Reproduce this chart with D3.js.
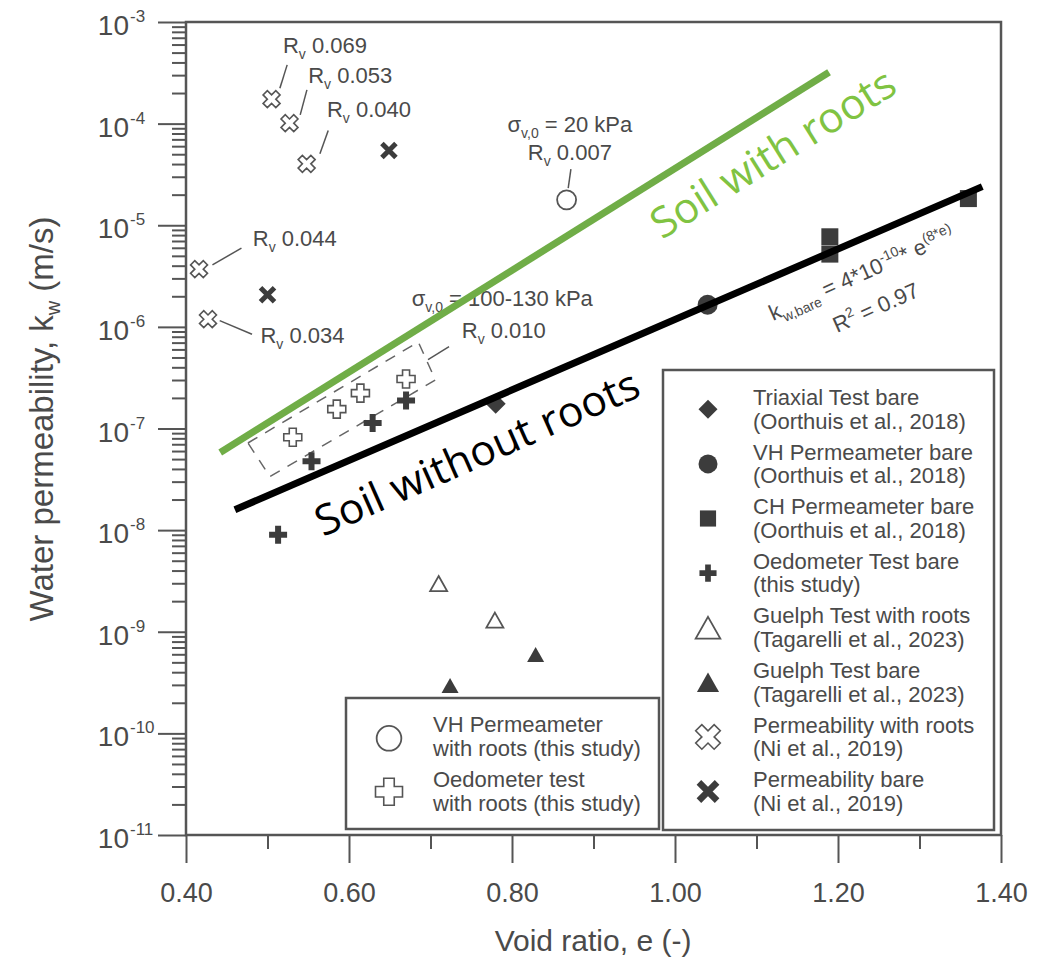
<!DOCTYPE html>
<html>
<head>
<meta charset="utf-8">
<script src="https://cdn.jsdelivr.net/npm/d3@7"></script>
<style>
  body { margin: 0; background: #fff; }
  text { font-family: "Liberation Sans", Arial, sans-serif; fill: #4a4a4a; }
</style>
</head>
<body>
<svg id="chart" width="1045" height="962"></svg>
<script>
// data (void ratio e, permeability k in m/s)
const triaxialE = [0.78];
const triaxialK = [1.75e-7];
const vhBareE = [1.04];
const vhBareK = [1.65e-6];
const chBareE = [1.19, 1.19, 1.36];
const chBareK = [7.7e-6, 5.2e-6, 1.83e-5];
const oedoBareE = [0.513, 0.554, 0.629, 0.670];
const oedoBareK = [9.0e-9, 4.75e-8, 1.13e-7, 1.89e-7];
const oedoRootE = [0.531, 0.585, 0.614, 0.670];
const oedoRootK = [8.2e-8, 1.55e-7, 2.23e-7, 3.07e-7];
const vhRootE = [0.867];
const vhRootK = [1.78e-5];
const guelphRootE = [0.710, 0.779];
const guelphRootK = [2.98e-9, 1.30e-9];
const guelphBareE = [0.724, 0.829];
const guelphBareK = [2.96e-10, 5.97e-10];
const niRootE = [0.505, 0.527, 0.548, 0.416, 0.427];
const niRootK = [1.74e-4, 1.01e-4, 4.02e-5, 3.7e-6, 1.19e-6];
const niRootRv = ["0.069", "0.053", "0.040", "0.044", "0.034"];
const niBareE = [0.500, 0.649];
const niBareK = [2.07e-6, 5.43e-5];

// trend lines (end points)
const bareLineE = [0.46, 1.377];
const bareLineK = [1.586e-8, 2.4e-5];
const rootLineE = [0.442, 1.189];
const rootLineK = [5.8e-8, 3.2e-4];

// dashed box round the oedometer tests with roots
const boxE = [0.476, 0.685, 0.706, 0.503];
const boxK = [7.2e-8, 7.1e-7, 3.0e-7, 3.36e-8];

const xMajor = [0.4, 0.6, 0.8, 1.0, 1.2, 1.4];
const xMinor = [0.5, 0.7, 0.9, 1.1, 1.3];
const yExponents = [-11, -10, -9, -8, -7, -6, -5, -4, -3];
const yMinorMult = [2, 3, 4, 5, 6, 7, 8, 9];

const legendRight = [
  ["diamond", "Triaxial Test bare", "(Oorthuis et al., 2018)"],
  ["circleFill", "VH Permeameter bare", "(Oorthuis et al., 2018)"],
  ["square", "CH Permeameter bare", "(Oorthuis et al., 2018)"],
  ["plusFill", "Oedometer Test bare", "(this study)"],
  ["triOpen", "Guelph Test with roots", "(Tagarelli et al., 2023)"],
  ["triFill", "Guelph Test bare", "(Tagarelli et al., 2023)"],
  ["xOpen", "Permeability with roots", "(Ni et al., 2019)"],
  ["xFill", "Permeability bare", "(Ni et al., 2019)"]
];
const legendBottom = [
  ["circleOpen", "VH Permeameter", "with roots (this study)"],
  ["plusOpen", "Oedometer test", "with roots (this study)"]
];

const svg = d3.select("#chart");
const dark = "#3c3c3c";
const grey = "#555";

const x = d3.scaleLinear().domain([0.4, 1.4]).range([186, 1001]);
const y = d3.scaleLog().domain([1e-11, 1e-3]).range([835, 22]);

// axes
const xAxisG = svg.append("g").attr("transform", "translate(0,835)");
xAxisG.call(d3.axisBottom(x).tickValues(xMajor).tickSize(28).tickPadding(20)
  .tickFormat(d3.format(".2f")));
xAxisG.append("g").call(d3.axisBottom(x).tickValues(xMinor).tickSize(14).tickFormat(""));
xAxisG.selectAll("text").style("font-size", "27px").attr("fill", "#4a4a4a");

const yMajor = yExponents.map(p => Math.pow(10, p));
const yMinor = [];
yExponents.slice(0, -1).forEach(p => yMinorMult.forEach(m => yMinor.push(m * Math.pow(10, p))));
const yAxisG = svg.append("g").attr("transform", "translate(186,0)");
yAxisG.call(d3.axisLeft(y).tickValues(yMajor).tickSize(28).tickFormat(""));
yAxisG.append("g").call(d3.axisLeft(y).tickValues(yMinor).tickSize(14).tickFormat(""));

svg.selectAll(".domain").remove();
svg.selectAll(".tick line").attr("stroke", grey).attr("stroke-width", 2);

yExponents.forEach(p => {
  const yy = y(Math.pow(10, p));
  svg.append("text").attr("x", 129).attr("y", yy + 13).attr("text-anchor", "end")
    .style("font-size", "28px").text("10");
  svg.append("text").attr("x", 130).attr("y", yy).style("font-size", "17px").text("-" + (-p));
});

svg.append("rect").attr("x", 186).attr("y", 22).attr("width", 815).attr("height", 813)
  .attr("fill", "none").attr("stroke", grey).attr("stroke-width", 2.5);

svg.append("text").attr("x", 593).attr("y", 951).attr("text-anchor", "middle")
  .style("font-size", "30px").text("Void ratio, e (-)");

const yl = svg.append("text").attr("transform", "translate(53,419) rotate(-90)")
  .attr("text-anchor", "middle").style("font-size", "33px");
yl.append("tspan").text("Water permeability, k");
yl.append("tspan").attr("dy", 7).style("font-size", "20px").text("w");
yl.append("tspan").attr("dy", -7).text(" (m/s)");

// markers
function plusPts(a, w) {
  return [[w,-a],[w,-w],[a,-w],[a,w],[w,w],[w,a],[-w,a],[-w,w],[-a,w],[-a,-w],[-w,-w],[-w,-a]];
}
function marker(g, type, cx, cy, s) {
  const m = g.append("g").attr("transform", `translate(${cx},${cy})`);
  const line = d3.line();
  if (type === "diamond") {
    m.append("path").attr("d", line([[0,-10*s],[10*s,0],[0,10*s],[-10*s,0]]) + "Z").attr("fill", dark);
  } else if (type === "circleFill") {
    m.append("circle").attr("r", 10 * s).attr("fill", dark);
  } else if (type === "square") {
    m.append("rect").attr("x", -8.5*s).attr("y", -8.5*s).attr("width", 17*s).attr("height", 17*s).attr("fill", dark);
  } else if (type === "plusFill") {
    m.append("path").attr("d", line(plusPts(9*s, 3*s)) + "Z").attr("fill", dark);
  } else if (type === "plusOpen") {
    m.append("path").attr("d", line(plusPts(9*s, 3.5*s)) + "Z").attr("fill", "#fff")
      .attr("stroke", grey).attr("stroke-width", 1.6);
  } else if (type === "triOpen" || type === "triFill") {
    const t = m.append("path").attr("d", line([[0,-7.5*s],[8.5*s,7.5*s],[-8.5*s,7.5*s]]) + "Z");
    if (type === "triFill") t.attr("fill", dark);
    else t.attr("fill", "#fff").attr("stroke", grey).attr("stroke-width", 1.8);
  } else if (type === "xOpen") {
    m.append("path").attr("d", line(plusPts(9*s, 3*s)) + "Z").attr("transform", "rotate(45)")
      .attr("fill", "#fff").attr("stroke", grey).attr("stroke-width", 1.6);
  } else if (type === "xFill") {
    m.append("path").attr("d", `M${-7*s},${-7*s}L${7*s},${7*s}M${7*s},${-7*s}L${-7*s},${7*s}`)
      .attr("stroke", dark).attr("stroke-width", 5 * s);
  } else if (type === "circleOpen") {
    m.append("circle").attr("r", 9.5 * s).attr("fill", "#fff").attr("stroke", grey).attr("stroke-width", 1.8);
  }
}

// dashed box
const boxPts = boxE.map((e, i) => [x(e), y(boxK[i])]);
svg.append("path").attr("d", d3.line()(boxPts) + "Z").attr("fill", "none")
  .attr("stroke", "#666").attr("stroke-width", 1.5).attr("stroke-dasharray", "11,9");

// annotations: leader lines and labels (offsets in px from the marked point)
const lead = (p, a, b) => svg.append("line")
  .attr("x1", p[0] + a[0]).attr("y1", p[1] + a[1]).attr("x2", p[0] + b[0]).attr("y2", p[1] + b[1])
  .attr("stroke", grey).attr("stroke-width", 1.5);
function rvText(px, py, val, anchor) {
  const t = svg.append("text").attr("x", px).attr("y", py).style("font-size", "22px")
    .attr("text-anchor", anchor || "start");
  t.append("tspan").text("R");
  t.append("tspan").attr("dy", 6).style("font-size", "14px").text("v");
  t.append("tspan").attr("dy", -6).text(" " + val);
}
function sigmaText(px, py, val, anchor) {
  const t = svg.append("text").attr("x", px).attr("y", py).style("font-size", "22px")
    .attr("text-anchor", anchor || "start");
  t.append("tspan").text("σ");
  t.append("tspan").attr("dy", 6).style("font-size", "14px").text("v,0");
  t.append("tspan").attr("dy", -6).text(" = " + val);
}
const niOffsets = [
  { a: [8.3, -11], b: [15.6, -34.3], t: [11.3, -46.3] },
  { a: [10.7, -8.3], b: [17.4, -33.3], t: [18.7, -40.3] },
  { a: [13.3, -10], b: [21.6, -33.3], t: [20.3, -47] },
  { a: [13.4, -4.3], b: [42.4, -21], t: [53.7, -23.3] },
  { a: [11.7, 1.4], b: [44, 15], t: [52.4, 23.7] }
];
niRootE.forEach((e, i) => {
  const p = [x(e), y(niRootK[i])];
  const o = niOffsets[i];
  lead(p, o.a, o.b);
  rvText(p[0] + o.t[0], p[1] + o.t[1], niRootRv[i]);
});
const pv = [x(vhRootE[0]), y(vhRootK[0])];
lead(pv, [1.6, -11.7], [4.3, -30.7]);
rvText(pv[0] + 3.3, pv[1] - 40, "0.007", "middle");
sigmaText(pv[0] + 3.3, pv[1] - 68.3, "20 kPa", "middle");
const po = [x(oedoRootE[3]), y(oedoRootK[3])];
lead(po, [43, -32.3], [22, -19.3]);
rvText(po[0] + 55.7, po[1] - 41.3, "0.010");
sigmaText(po[0] + 5.7, po[1] - 73.3, "100-130 kPa");

// data markers
const mg = svg.append("g");
const series = [
  ["diamond", triaxialE, triaxialK], ["circleFill", vhBareE, vhBareK], ["square", chBareE, chBareK],
  ["plusFill", oedoBareE, oedoBareK], ["plusOpen", oedoRootE, oedoRootK], ["circleOpen", vhRootE, vhRootK],
  ["triOpen", guelphRootE, guelphRootK], ["triFill", guelphBareE, guelphBareK],
  ["xOpen", niRootE, niRootK], ["xFill", niBareE, niBareK]
];
series.forEach(([type, es, ks]) => es.forEach((e, i) => marker(mg, type, x(e), y(ks[i]), 1)));

// trend lines
svg.append("path").attr("d", d3.line()(bareLineE.map((e, i) => [x(e), y(bareLineK[i])])))
  .attr("stroke", "#000").attr("stroke-width", 7);
svg.append("path").attr("d", d3.line()(rootLineE.map((e, i) => [x(e), y(rootLineK[i])])))
  .attr("stroke", "#70ad47").attr("stroke-width", 7);

svg.append("text").attr("transform", "translate(323,537) rotate(-23.9)")
  .attr("textLength", 350).attr("lengthAdjust", "spacingAndGlyphs")
  .style("font-family", "'Open Sans', sans-serif").style("font-size", "42px").style("fill", "#000")
  .text("Soil without roots");
svg.append("text").attr("transform", "translate(662,240) rotate(-32)")
  .attr("textLength", 280).attr("lengthAdjust", "spacingAndGlyphs")
  .style("font-family", "'Open Sans', sans-serif").style("font-size", "42px").style("fill", "#80c342")
  .text("Soil with roots");

// fit equation
const eq = svg.append("text").attr("transform", "translate(773,321) rotate(-24)").style("font-size", "22px");
eq.append("tspan").text("k");
eq.append("tspan").attr("dy", 6).style("font-size", "14px").text("w,bare");
eq.append("tspan").attr("dy", -6).text(" = 4*10");
eq.append("tspan").attr("dy", -9).style("font-size", "14px").text("-10");
eq.append("tspan").attr("dy", 9).text("* e");
eq.append("tspan").attr("dy", -9).style("font-size", "14px").text("(8*e)");
const r2 = svg.append("text").attr("transform", "translate(837,333) rotate(-24)").style("font-size", "22px");
r2.append("tspan").text("R");
r2.append("tspan").attr("dy", -9).style("font-size", "14px").text("2");
r2.append("tspan").attr("dy", 9).text(" = 0.97");

// legends
function legendBox(x0, y0, w, h) {
  svg.append("rect").attr("x", x0).attr("y", y0).attr("width", w).attr("height", h)
    .attr("fill", "#fff").attr("stroke", grey).attr("stroke-width", 2.5);
}
legendBox(663, 370, 331, 460);
legendRight.forEach(([type, l1, l2], i) => {
  const by = 405 + i * 54.6;
  marker(svg, type, 708, by + 4.3, type === "triOpen" || type === "xOpen" ? 1.45 : (type === "triFill" || type === "xFill" ? 1.3 : 0.95));
  svg.append("text").attr("x", 753).attr("y", by).style("font-size", "22px").text(l1);
  svg.append("text").attr("x", 753).attr("y", by + 23.5).style("font-size", "22px").text(l2);
});
legendBox(346, 698, 313, 131);
legendBottom.forEach(([type, l1, l2], i) => {
  const by = 731.7 + i * 55;
  marker(svg, type, 389, by + 6.6 - i * 1.5, type === "circleOpen" ? 1.3 : 1.5);
  svg.append("text").attr("x", 433).attr("y", by).style("font-size", "22px").text(l1);
  svg.append("text").attr("x", 433).attr("y", by + 24.3).style("font-size", "22px").text(l2);
});
</script>
</body>
</html>
